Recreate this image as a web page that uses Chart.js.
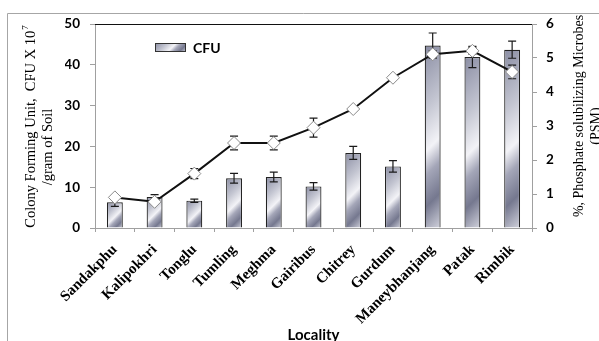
<!DOCTYPE html>
<html>
<head>
<meta charset="utf-8">
<script src="https://cdn.jsdelivr.net/npm/chart.js@4/dist/chart.umd.min.js"></script>
<style>
  html, body { margin: 0; padding: 0; background: #fff; }
  #wrap { width: 599px; height: 341px; position: relative; }
</style>
</head>
<body>
<div id="wrap"><canvas id="c" width="599" height="341"></canvas></div>
<script>
// Sampling sites
const localities = ['Sandakphu', 'Kalipokhri', 'Tonglu', 'Tumling', 'Meghma', 'Gairibus',
                    'Chitrey', 'Gurdum', 'Maneybhanjang', 'Patak', 'Rimbik'];
// Colony forming units (CFU x 10^7 / g soil) and their standard errors
const cfu    = [6.3, 7.6, 6.7, 12.2, 12.5, 10.2, 18.4, 15.1, 44.7, 41.9, 43.7];
const cfuErr = [1.0, 0.6, 0.4, 1.2, 1.2, 0.9, 1.6, 1.4, 3.1, 2.6, 2.1];
// Percentage of phosphate solubilizing microbes and their standard errors
const psm    = [0.9, 0.77, 1.6, 2.5, 2.5, 2.95, 3.5, 4.42, 5.11, 5.21, 4.59];
const psmErr = [0.05, 0.05, 0.15, 0.2, 0.2, 0.28, 0.05, 0.05, 0.1, 0.1, 0.2];
// Axis ticks
const cfuTicks = [0, 10, 20, 30, 40, 50];
const psmTicks = [0, 1, 2, 3, 4, 5, 6];

const SERIF = '"Liberation Serif", "Times New Roman", serif';
const SANS = 'Lato, "Liberation Sans", sans-serif';

// Brushed-metal fill laid diagonally across a box
function metalGradient(g, left, top, w, h) {
  const t = (w + h) / 2;
  const grad = g.createLinearGradient(left, top, left + t, top + t);
  grad.addColorStop(0.00, '#8a8da3');
  grad.addColorStop(0.32, '#c3c5d1');
  grad.addColorStop(0.54, '#f3f3f7');
  grad.addColorStop(0.66, '#a4a6b8');
  grad.addColorStop(0.82, '#75788f');
  grad.addColorStop(1.00, '#d2d3dd');
  return grad;
}

function barFill(ctx) {
  const chart = ctx.chart;
  if (!chart.chartArea || ctx.type !== 'data') return '#a4a6b8';
  const xs = chart.scales.x, ys = chart.scales.y;
  const w = xs.width / localities.length * 0.4;
  const cx = xs.getPixelForValue(ctx.dataIndex);
  const top = ys.getPixelForValue(cfu[ctx.dataIndex]);
  const bottom = ys.getPixelForValue(0);
  return metalGradient(chart.ctx, cx - w / 2, top, w, bottom - top);
}

function drawErrors(chart, index) {
  const ds = chart.data.datasets[index];
  const meta = chart.getDatasetMeta(index);
  const ys = chart.scales[ds.yAxisID];
  const g = chart.ctx;
  g.save();
  g.strokeStyle = '#1a1a1a';
  g.lineWidth = 1.2;
  meta.data.forEach((el, i) => {
    const v = ds.data[i], e = ds.errors[i];
    const x = el.x;
    const y1 = ys.getPixelForValue(v + e);
    const y2 = ys.getPixelForValue(v - e);
    g.beginPath();
    g.moveTo(x, y1); g.lineTo(x, y2);
    g.moveTo(x - 4, y1); g.lineTo(x + 4, y1);
    g.moveTo(x - 4, y2); g.lineTo(x + 4, y2);
    g.stroke();
  });
  g.restore();
}

// Bar error bars sit on top of the bars; line error bars sit under the markers
const errorBars = {
  id: 'errorBars',
  beforeDatasetDraw(chart, args) {
    const ds = chart.data.datasets[args.index];
    if (ds.errors && ds.type === 'line') drawErrors(chart, args.index);
  },
  afterDatasetDraw(chart, args) {
    const ds = chart.data.datasets[args.index];
    if (ds.errors && ds.type === 'bar') drawErrors(chart, args.index);
  }
};

// Frame, plot top rule, legend and axis titles
const decorations = {
  id: 'decorations',
  beforeDraw(chart) {
    const g = chart.ctx;
    g.save();
    g.fillStyle = '#fff';
    g.fillRect(0, 0, chart.width, chart.height);
    g.strokeStyle = '#a6a6a6';
    g.lineWidth = 1;
    g.beginPath();
    g.moveTo(7.5, chart.height + 2);
    g.lineTo(7.5, 13.5);
    g.lineTo(chart.width + 2, 13.5);
    g.stroke();
    g.restore();
  },
  afterDraw(chart) {
    const g = chart.ctx;
    const a = chart.chartArea;
    g.save();
    // top rule of the plot
    g.strokeStyle = '#111';
    g.lineWidth = 1.2;
    g.beginPath();
    g.moveTo(a.left, a.top + 0.5);
    g.lineTo(a.right, a.top + 0.5);
    g.stroke();

    // legend
    const lx = a.left + 60, ly = a.top + 19, lw = 31, lh = 9;
    g.fillStyle = metalGradient(g, lx, ly, lw, lh);
    g.fillRect(lx, ly, lw, lh);
    g.strokeStyle = '#333';
    g.lineWidth = 1;
    g.strokeRect(lx + 0.5, ly + 0.5, lw - 1, lh - 1);
    g.fillStyle = '#000';
    g.font = 'bold 14px ' + SANS;
    g.textAlign = 'left';
    g.textBaseline = 'middle';
    g.fillText('CFU', lx + lw + 7, ly + lh / 2 + 0.5);

    // left axis title
    g.save();
    g.translate(31, 127);
    g.rotate(-Math.PI / 2);
    g.fillStyle = '#000';
    g.textBaseline = 'middle';
    g.font = '14.5px ' + SERIF;
    const main = 'Colony Forming Unit,  CFU X 10';
    const mw = g.measureText(main).width;
    g.font = '9px ' + SERIF;
    const sw = g.measureText('7').width;
    const start = -(mw + sw) / 2;
    g.font = '14.5px ' + SERIF;
    g.textAlign = 'left';
    g.fillText(main, start, 0);
    g.font = '9px ' + SERIF;
    g.fillText('7', start + mw + 1, -5);
    g.restore();

    g.save();
    g.translate(48, 147);
    g.rotate(-Math.PI / 2);
    g.fillStyle = '#000';
    g.textAlign = 'center';
    g.textBaseline = 'middle';
    g.font = '14.5px ' + SERIF;
    g.fillText('/gram of Soil', 0, 0);
    g.restore();

    // right axis title
    g.save();
    g.translate(579, 116);
    g.rotate(-Math.PI / 2);
    g.fillStyle = '#000';
    g.textAlign = 'center';
    g.textBaseline = 'middle';
    g.font = '14px ' + SERIF;
    g.fillText('%, Phosphate solubilizing Microbes', 0, 0);
    g.translate(-10, 17);
    g.fillText('(PSM)', 0, 0);
    g.restore();

    // x axis title
    g.fillStyle = '#000';
    g.font = 'bold 15px ' + SANS;
    g.textAlign = 'center';
    g.textBaseline = 'middle';
    g.fillText('Locality', (a.left + a.right) / 2, 335);
    g.restore();
  }
};

new Chart(document.getElementById('c'), {
  data: {
    labels: localities,
    datasets: [
      {
        type: 'line',
        label: 'PSM',
        data: psm,
        errors: psmErr,
        yAxisID: 'y2',
        order: 0,
        borderColor: '#111',
        borderWidth: 2,
        tension: 0,
        pointStyle: 'rectRot',
        pointRadius: 6.5,
        pointBackgroundColor: '#fff',
        pointBorderColor: '#8a8a8a',
        pointBorderWidth: 1
      },
      {
        type: 'bar',
        label: 'CFU',
        data: cfu,
        errors: cfuErr,
        yAxisID: 'y',
        order: 1,
        backgroundColor: barFill,
        borderColor: '#222',
        borderWidth: 1.2,
        categoryPercentage: 0.8,
        barPercentage: 0.5
      }
    ]
  },
  options: {
    responsive: false,
    animation: false,
    events: [],
    layout: { padding: { left: 65, right: 37, top: 24, bottom: 0 } },
    plugins: { legend: { display: false }, tooltip: { enabled: false } },
    scales: {
      x: {
        type: 'category',
        grid: { offset: true, drawOnChartArea: false, drawTicks: true, tickLength: 4, color: '#a0a0a0' },
        border: { color: '#a0a0a0' },
        ticks: {
          minRotation: 45, maxRotation: 45, padding: 9, color: '#000',
          font: { family: SERIF, weight: 'bold', size: 15 }
        },
        afterFit(s) { s.height = 113; }
      },
      y: {
        position: 'left',
        min: 0, max: 50,
        afterBuildTicks(s) { s.ticks = cfuTicks.map(v => ({ value: v })); },
        grid: { drawOnChartArea: false, drawTicks: true, tickLength: 5, color: '#a0a0a0' },
        border: { color: '#a0a0a0' },
        ticks: { padding: 10, color: '#000', font: { family: SANS, weight: 'bold', size: 13.5 } },
        afterFit(s) { s.width = 30; }
      },
      y2: {
        position: 'right',
        min: 0, max: 6,
        afterBuildTicks(s) { s.ticks = psmTicks.map(v => ({ value: v })); },
        grid: { drawOnChartArea: false, drawTicks: true, tickLength: 5, color: '#a0a0a0' },
        border: { color: '#a0a0a0' },
        ticks: { padding: 9, color: '#000', font: { family: SANS, weight: 'bold', size: 13.5 } },
        afterFit(s) { s.width = 30; }
      }
    }
  },
  plugins: [decorations, errorBars]
});
</script>
</body>
</html>
